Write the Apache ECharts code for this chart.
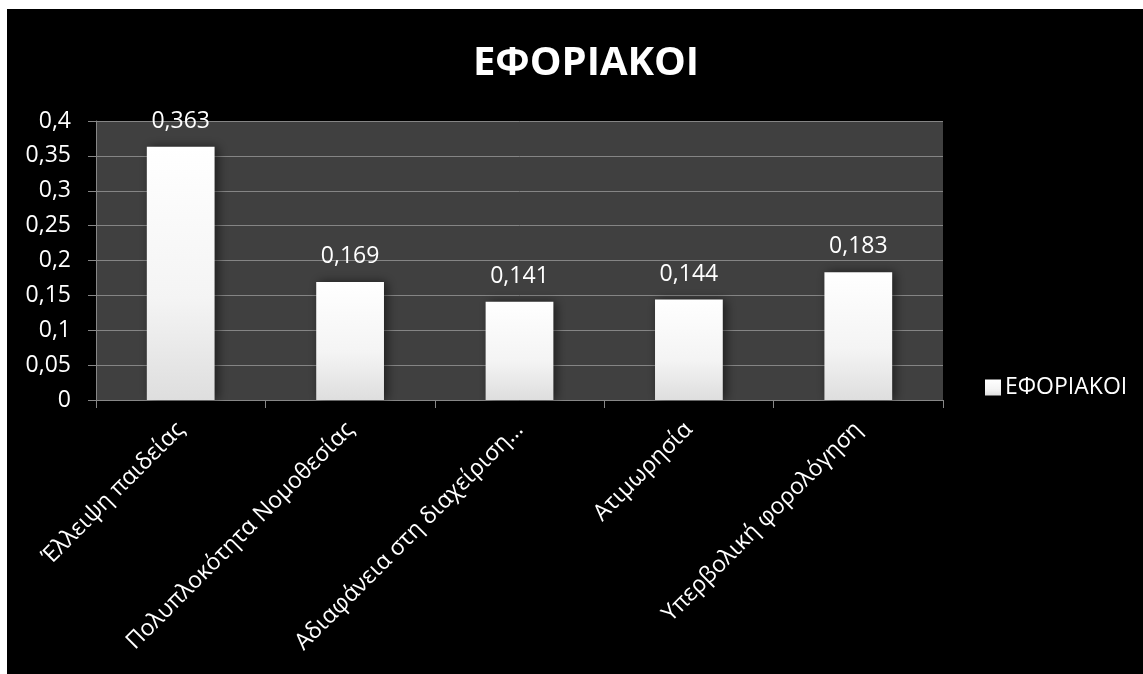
<!DOCTYPE html>
<html>
<head>
<meta charset="utf-8">
<script src="https://cdn.jsdelivr.net/npm/echarts@6/dist/echarts.min.js"></script>
<style>
  html, body { margin: 0; padding: 0; background: #ffffff; }
  #chart { position: absolute; left: 7px; top: 9px; width: 1136px; height: 665px; background: #000000; }
</style>
</head>
<body>
<div id="chart"></div>
<script>
const titleText = 'ΕΦΟΡΙΑΚΟΙ';
const seriesName = 'ΕΦΟΡΙΑΚΟΙ';
const categories = ['Έλλειψη παιδείας', 'Πολυπλοκότητα Νομοθεσίας', 'Αδιαφάνεια στη διαχείριση…', 'Ατιμωρησία', 'Υπερβολική φορολόγηση'];
const values = [0.363, 0.169, 0.141, 0.144, 0.183];
const yMin = 0, yMax = 0.4, yStep = 0.05;

const FONT = '"Open Sans", "Noto Sans", sans-serif';
const comma = v => String(+v.toFixed(3)).replace('.', ',');

const chart = echarts.init(document.getElementById('chart'));
chart.setOption({
  backgroundColor: '#000000',
  animation: false,
  title: {
    text: titleText,
    left: 574,
    textAlign: 'center',
    top: 30,
    textStyle: { color: '#ffffff', fontFamily: FONT, fontSize: 40, fontWeight: 'bold' }
  },
  legend: {
    left: 973,
    top: 362,
    icon: 'rect',
    itemWidth: 16,
    itemHeight: 16,
    itemGap: 10,
    textStyle: { color: '#ffffff', fontFamily: FONT, fontSize: 23, padding: [0, 0, 0, -1] },
    data: [seriesName]
  },
  grid: { left: 89, top: 112, width: 847, height: 279, containLabel: false, show: true, backgroundColor: '#404040', borderWidth: 0 },
  xAxis: {
    type: 'category',
    data: categories,
    axisLine: { show: true, lineStyle: { color: '#878787', width: 1 } },
    axisTick: { show: true, length: 8, lineStyle: { color: '#878787' } },
    axisLabel: { rotate: 45, margin: 26, color: '#ffffff', fontFamily: FONT, fontSize: 23, interval: 0 }
  },
  yAxis: {
    type: 'value',
    min: yMin, max: yMax, interval: yStep,
    axisLine: { show: true, lineStyle: { color: '#878787', width: 1 } },
    axisTick: { show: true, length: 8, lineStyle: { color: '#878787' } },
    splitLine: { show: true, lineStyle: { color: '#858585', width: 1 } },
    axisLabel: { margin: 25, color: '#ffffff', fontFamily: FONT, fontSize: 23, formatter: v => comma(v) }
  },
  series: [{
    name: seriesName,
    type: 'bar',
    data: values,
    barWidth: '40%',
    itemStyle: {
      color: new echarts.graphic.LinearGradient(0, 0, 0, 1, [
        { offset: 0, color: '#ffffff' },
        { offset: 0.6, color: '#f4f4f4' },
        { offset: 1, color: '#dedede' }
      ]),
      shadowColor: 'rgba(0,0,0,0.55)',
      shadowBlur: 10,
      shadowOffsetX: 3,
      shadowOffsetY: 0
    },
    label: {
      show: true,
      position: 'top',
      distance: 14,
      color: '#ffffff',
      fontFamily: FONT,
      fontSize: 23,
      formatter: p => comma(p.value)
    }
  }]
});
</script>
</body>
</html>
